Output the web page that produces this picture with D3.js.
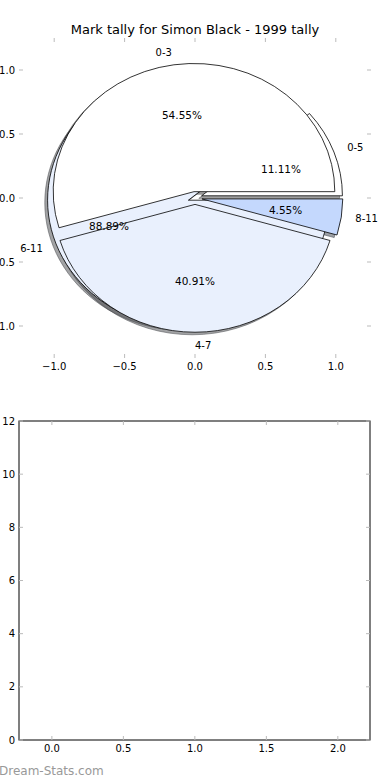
<!DOCTYPE html>
<html>
<head>
<meta charset="utf-8">
<script src="https://cdn.jsdelivr.net/npm/d3@7"></script>
<style>
  body { margin: 0; background: #fff; }
  svg { display: block; font-family: "DejaVu Sans", sans-serif; }
</style>
</head>
<body>
<div id="chart"></div>
<script>
const title = "Mark tally for Simon Black - 1999 tally";

// outer split (drawn first, mostly hidden)
const splitLabels = ["0-5", "6-11"];
const splitValues = [1, 8];
const splitColors = ["#ffffff", "#e9f0fd"];

// main tally
const tallyLabels = ["0-3", "4-7", "8-11"];
const tallyValues = [12, 9, 1];
const tallyColors = ["#ffffff", "#e9f0fd", "#c4d8fd"];

const pieTicks = [-1.0, -0.5, 0.0, 0.5, 1.0];
const barXTicks = [0.0, 0.5, 1.0, 1.5, 2.0];
const barYTicks = [0, 2, 4, 6, 8, 10, 12];

const width = 390, height = 780;
const explode = 0.05;

const svg = d3.select("#chart").append("svg")
  .attr("width", width)
  .attr("height", height);

const tickColor = "#bbbbbb";
const fmt = d3.format(".1f");

// ---- pie axes ----
const px = d3.scaleLinear().domain([-1.25, 1.25]).range([19, 371]);
const py = d3.scaleLinear().domain([-1.25, 1.25]).range([358, 38]);

svg.append("text")
  .attr("x", width / 2)
  .attr("y", 34)
  .attr("text-anchor", "middle")
  .style("font-size", "13px")
  .text(title);

function drawTicks(g, xs, ys, xTicks, yTicks, xLab, yLab) {
  const [x0, x1] = xs.range();
  const [y0, y1] = ys.range(); // y0 bottom, y1 top
  xTicks.forEach(t => {
    g.append("line").attr("x1", xs(t)).attr("x2", xs(t)).attr("y1", y0).attr("y2", y0 - 4)
      .attr("stroke", tickColor);
    g.append("line").attr("x1", xs(t)).attr("x2", xs(t)).attr("y1", y1).attr("y2", y1 + 4)
      .attr("stroke", tickColor);
    g.append("text")
      .attr("x", xs(t))
      .attr("y", y0 + 12)
      .attr("text-anchor", "middle")
      .style("font-size", "10px")
      .text(xLab(t));
  });
  yTicks.forEach(t => {
    g.append("line").attr("x1", x0).attr("x2", x0 + 4).attr("y1", ys(t)).attr("y2", ys(t))
      .attr("stroke", tickColor);
    g.append("line").attr("x1", x1).attr("x2", x1 - 4).attr("y1", ys(t)).attr("y2", ys(t))
      .attr("stroke", tickColor);
    g.append("text")
      .attr("x", x0 - 4)
      .attr("y", ys(t))
      .attr("dy", "0.35em")
      .attr("text-anchor", "end")
      .style("font-size", "10px")
      .text(yLab(t));
  });
}

const pieAxis = svg.append("g");
drawTicks(pieAxis, px, py, pieTicks, pieTicks,
  t => fmt(t).replace("-", "\u2212"), t => fmt(t).replace("-", "\u2212"));

const kx = px(1) - px(0);
const ky = py(0) - py(1);
const arc = d3.arc().innerRadius(0).outerRadius(1);

// matplotlib-like wedges: counterclockwise from 3 o'clock
function wedges(values, labels, colors) {
  const total = d3.sum(values);
  let acc = 0;
  return values.map((v, i) => {
    const t1 = acc / total * 2 * Math.PI;
    acc += v;
    const t2 = acc / total * 2 * Math.PI;
    const mid = (t1 + t2) / 2;
    return {
      label: labels[i],
      color: colors[i],
      pct: v / total * 100,
      t1, t2, mid,
      cx: explode * Math.cos(mid),
      cy: explode * Math.sin(mid)
    };
  });
}

const pies = [
  wedges(splitValues, splitLabels, splitColors),
  wedges(tallyValues, tallyLabels, tallyColors)
];

const shadowLayer = svg.append("g");
const wedgeLayer = svg.append("g");
const textLayer = svg.append("g");

function wedgePath(d) {
  return arc({ startAngle: Math.PI / 2 - d.t2, endAngle: Math.PI / 2 - d.t1 });
}

function shade(color) {
  const c = d3.rgb(color);
  return d3.rgb(c.r * 0.3, c.g * 0.3, c.b * 0.3);
}

pies.forEach(data => {
  shadowLayer.selectAll(null)
    .data(data)
    .enter()
    .append("path")
    .attr("transform", d => `translate(${px(d.cx - 0.02)},${py(d.cy - 0.02)}) scale(${kx},${ky})`)
    .attr("d", wedgePath)
    .attr("fill", d => shade(d.color))
    .attr("fill-opacity", 0.5)
    .attr("stroke", d => shade(d.color))
    .attr("stroke-opacity", 0.5)
    .attr("stroke-width", 1)
    .attr("vector-effect", "non-scaling-stroke");

  wedgeLayer.selectAll(null)
    .data(data)
    .enter()
    .append("path")
    .attr("transform", d => `translate(${px(d.cx)},${py(d.cy)}) scale(${kx},${ky})`)
    .attr("d", wedgePath)
    .attr("fill", d => d.color)
    .attr("stroke", "#000")
    .attr("stroke-width", 0.8)
    .attr("vector-effect", "non-scaling-stroke");

  data.forEach(d => {
    const xt = d.cx + 1.1 * Math.cos(d.mid);
    const yt = d.cy + 1.1 * Math.sin(d.mid);
    textLayer.append("text")
      .attr("x", px(xt))
      .attr("y", py(yt))
      .attr("dy", "0.35em")
      .attr("text-anchor", xt > -1e-9 ? "start" : "end")
      .style("font-size", "10px")
      .text(d.label);

    textLayer.append("text")
      .attr("x", px(d.cx + 0.6 * Math.cos(d.mid)))
      .attr("y", py(d.cy + 0.6 * Math.sin(d.mid)))
      .attr("dy", "0.35em")
      .attr("text-anchor", "middle")
      .style("font-size", "10.5px")
      .text(d.pct.toFixed(2) + "%");
  });
});

// ---- empty lower axes ----
const bx = d3.scaleLinear().domain([-0.23, 2.225]).range([19, 370]);
const by = d3.scaleLinear().domain([0, 12]).range([740, 421]);

const barAxis = svg.append("g");
barAxis.append("rect")
  .attr("x", bx.range()[0])
  .attr("y", by.range()[1])
  .attr("width", bx.range()[1] - bx.range()[0])
  .attr("height", by.range()[0] - by.range()[1])
  .attr("fill", "none")
  .attr("stroke", "#000")
  .attr("stroke-width", 1);

drawTicks(barAxis, bx, by, barXTicks, barYTicks, t => fmt(t), t => String(t));

svg.append("text")
  .attr("x", -1)
  .attr("y", 775)
  .style("font-size", "12px")
  .attr("fill", "#999")
  .text("Dream-Stats.com");
</script>
</body>
</html>
